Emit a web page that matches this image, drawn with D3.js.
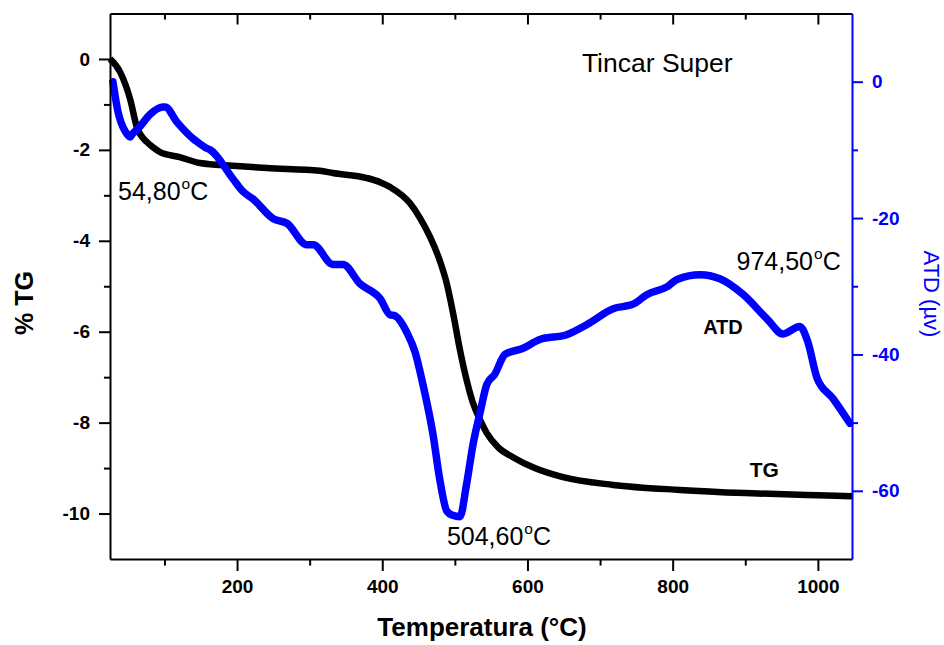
<!DOCTYPE html>
<html lang="pt">
<head>
  <meta charset="UTF-8">
  <title>Tincar Super - TG / ATD</title>
  <script src="https://d3js.org/d3.v7.min.js"></script>
  <style>
    body { margin: 0; background: #fff; }
    svg text { font-family: "Liberation Sans", Arial, sans-serif; }
    .axis path, .axis line { stroke-width: 2px; }
  </style>
</head>
<body>
  <div id="chart"></div>
  <script>
    // TG curve (% mass)
    const tgTemp = [25, 39, 53, 62, 76, 84, 94, 121, 149, 194, 241, 314, 332, 379, 397, 411, 438,
      452, 466, 480, 489, 498, 507, 516, 525, 535, 544, 560, 580, 610, 649, 718, 810, 900, 1000, 1047];
    const tgValue = [0, -0.29, -0.9, -1.5, -1.83, -1.94, -2.05, -2.16, -2.29, -2.35, -2.4, -2.46, -2.51,
      -2.62, -2.71, -2.82, -3.17, -3.5, -3.92, -4.47, -4.95, -5.63, -6.4, -7.05, -7.57, -7.95, -8.23,
      -8.55, -8.76, -9.0, -9.2, -9.37, -9.48, -9.55, -9.6, -9.62];

    // ATD curve (µV)
    const atdTemp = [29, 36, 46, 53, 55, 66, 80, 98, 101, 117, 140, 145, 159, 163, 194, 208, 222, 250,
      269, 296, 305, 332, 346, 369, 397, 411, 417, 434, 445, 456, 470, 479, 489, 497, 507, 516, 525,
      535, 544, 555, 569, 594, 617, 654, 682, 718, 746, 765, 792, 806, 838, 865, 897, 930, 952, 975,
      986, 999, 1021, 1044];
    const atdValue = [0, -4.4, -7.3, -8.1, -7.8, -6.6, -4.8, -3.7, -3.7, -5.9, -8.4, -8.8, -9.8, -10.0,
      -14.2, -16.1, -17.2, -20.1, -20.8, -23.9, -23.9, -26.8, -26.8, -29.6, -31.8, -34.2, -34.3, -36.8,
      -39.6, -44.4, -51.8, -58.2, -63.0, -63.6, -63.8, -59.1, -53.2, -48.4, -44.4, -42.9, -40.0, -39.1,
      -37.8, -37.1, -35.6, -33.3, -32.6, -31.2, -30.1, -29.0, -28.3, -28.9, -31.2, -34.8, -37.0, -35.9,
      -38.1, -43.5, -46.5, -50.1];

    // ticks
    const xMajor = [200, 400, 600, 800, 1000];
    const xMinor = [100, 300, 500, 700, 900];
    const tgMajor = [0, -2, -4, -6, -8, -10];
    const tgMinor = [-1, -3, -5, -7, -9];
    const atdMajor = [0, -20, -40, -60];
    const atdMinor = [-10, -30, -50];

    // text labels placed in data coordinates
    const notes = [
      { t: "54,80", deg: true, x: 36, y: -3.1, axis: "tg", size: 25, bold: false },
      { t: "504,60", deg: true, x: 489, y: -67.9, axis: "atd", size: 25, bold: false },
      { t: "974,50", deg: true, x: 888, y: -27.6, axis: "atd", size: 25, bold: false },
      { t: "ATD", deg: false, x: 842, y: -37.0, axis: "atd", size: 20, bold: true },
      { t: "TG", deg: false, x: 906, y: -9.2, axis: "tg", size: 21, bold: true },
      { t: "Tincar Super", deg: false, x: 675, y: -0.29, axis: "tg", size: 26.5, bold: false }
    ];

    const width = 944, height = 645;
    const mLeft = 110, mRight = 852, mTop = 13.5, mBottom = 559;
    const blue = "#0000ff";

    const svg = d3.select("#chart").append("svg")
      .attr("width", width)
      .attr("height", height);

    svg.append("rect").attr("width", width).attr("height", height).attr("fill", "#fff");

    const x = d3.scaleLinear().domain([25, 1047]).range([mLeft, mRight]);
    const yTg = d3.scaleLinear().domain([-11, 1]).range([mBottom, mTop]);
    const yAtd = d3.scaleLinear().domain([-70, 10]).range([mBottom, mTop]);

    // curves
    const tgData = tgTemp.map((t, i) => [t, tgValue[i]]);
    const atdData = atdTemp.map((t, i) => [t, atdValue[i]]);

    svg.append("path")
      .datum(tgData)
      .attr("fill", "none")
      .attr("stroke", "#000")
      .attr("stroke-width", 6.5)
      .attr("stroke-linejoin", "round")
      .attr("d", d3.line().x(d => x(d[0])).y(d => yTg(d[1])).curve(d3.curveMonotoneX));

    svg.append("path")
      .datum(atdData)
      .attr("fill", "none")
      .attr("stroke", blue)
      .attr("stroke-width", 7.5)
      .attr("stroke-linejoin", "round")
      .attr("stroke-linecap", "round")
      .attr("d", d3.line().x(d => x(d[0])).y(d => yAtd(d[1])).curve(d3.curveMonotoneX));

    // axes: major with labels, minor short ones
    function addAxis(axisFn, scale, major, minor, transform, size, color, labels) {
      const g = svg.append("g").attr("class", "axis").attr("transform", transform);
      g.call(axisFn(scale).tickValues(major).tickSizeOuter(0).tickSizeInner(size)
        .tickPadding(labels ? 9 : 0));
      const m = svg.append("g").attr("class", "axis").attr("transform", transform);
      m.call(axisFn(scale).tickValues(minor).tickSizeOuter(0).tickSizeInner(size * 0.55).tickFormat(() => ""));
      m.select(".domain").remove();
      [g, m].forEach(s => {
        s.selectAll("path, line").attr("stroke", color);
        s.selectAll("text").attr("fill", color);
      });
      g.selectAll("text")
        .attr("font-size", 19)
        .attr("font-weight", "bold")
        .attr("font-family", "Liberation Sans, Arial, sans-serif")
        .text(d => labels ? (d < 0 ? "-" + Math.abs(d) : String(d)) : "");
      return g;
    }

    addAxis(d3.axisBottom, x, xMajor, xMinor, `translate(0,${mBottom})`, 12, "#000", true);
    addAxis(d3.axisTop, x, xMajor, xMinor, `translate(0,${mTop})`, -11, "#000", false);
    addAxis(d3.axisLeft, yTg, tgMajor, tgMinor, `translate(${mLeft},0)`, 11, "#000", true);
    addAxis(d3.axisRight, yAtd, atdMajor, atdMinor, `translate(${mRight},0)`, 11, blue, true);

    // axis titles
    svg.append("text")
      .attr("transform", "translate(482,636)")
      .attr("text-anchor", "middle")
      .attr("font-size", 26)
      .attr("font-weight", "bold")
      .text("Temperatura (°C)");

    svg.append("text")
      .attr("transform", "translate(33,303) rotate(-90)")
      .attr("text-anchor", "middle")
      .attr("font-size", 25)
      .attr("font-weight", "bold")
      .text("% TG");

    svg.append("text")
      .attr("transform", "translate(924,294) rotate(90)")
      .attr("text-anchor", "middle")
      .attr("font-size", 22)
      .attr("fill", blue)
      .text("ATD (µv)");

    // annotations
    notes.forEach(n => {
      const yy = n.axis === "tg" ? yTg(n.y) : yAtd(n.y);
      const txt = svg.append("text")
        .attr("x", x(n.x))
        .attr("y", yy)
        .attr("font-size", n.size)
        .attr("font-weight", n.bold ? "bold" : "normal")
        .attr("fill", "#000");
      txt.append("tspan").text(n.t);
      if (n.deg) {
        txt.append("tspan").attr("font-size", n.size * 0.62).attr("dx", 1).attr("dy", -n.size * 0.42).text("o");
        txt.append("tspan").attr("dy", n.size * 0.42).text("C");
      }
    });
  </script>
</body>
</html>
